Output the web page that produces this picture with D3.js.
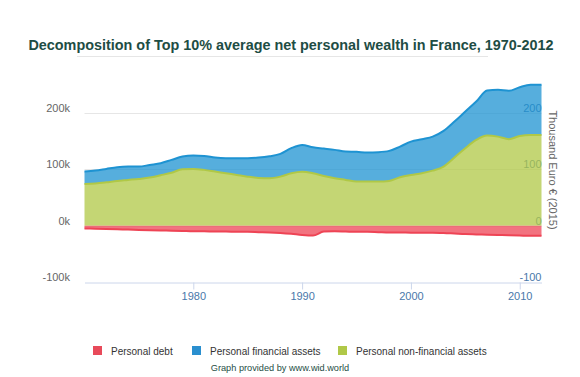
<!DOCTYPE html>
<html>
<head>
<meta charset="utf-8">
<script src="https://cdn.jsdelivr.net/npm/d3@7"></script>
<style>
  body { margin: 0; background: #fff; }
  text { font-family: "Liberation Sans", Arial, sans-serif; }
</style>
</head>
<body>
<div id="chart"></div>
<script>
// Values in thousand euro (2015)
const years = d3.range(1970, 2013);
const nonFinancial = [74, 75, 77, 79.4, 81.2, 83, 85.3, 89.5, 94, 100,
  100.7, 99, 96, 93, 90, 87, 84.7, 84, 87, 93,
  95.7, 93, 88, 84.2, 81.2, 78.2, 78.2, 78.2, 79.4, 86,
  90, 93, 97.7, 104.8, 120.8, 137.5, 152.2, 159.9, 158, 153.5,
  159.3, 161.1, 161];
const financial = [22, 22.7, 23.7, 24.3, 23.6, 21.8, 22.5, 21.3, 22.7, 22.6,
  23.7, 24.8, 24.8, 26.7, 29.7, 32.7, 36.1, 39.2, 40.3, 44.5,
  47.6, 46, 48.8, 50.3, 50.3, 52.8, 51.5, 52.1, 53.3, 54.3,
  59.2, 60.5, 60.3, 63.4, 63.9, 65, 68, 79.9, 83, 85.8,
  86.5, 88.9, 89];
const debt = [-5, -5.5, -6, -6.5, -7, -7.5, -8, -8.5, -9, -9.5,
  -10, -10, -10.5, -10.5, -11, -11, -11.5, -12, -13, -14.5,
  -16.5, -17.5, -10.5, -10, -10.5, -11, -11, -11.5, -12, -12,
  -12.5, -12.5, -12.5, -13, -14, -15, -15.5, -16, -16.5, -17,
  -17.5, -18, -18];

const yTicks = [-100, 0, 100, 200];
const xTicks = [1980, 1990, 2000, 2010];

const seriesNames = ["Personal debt", "Personal financial assets", "Personal non-financial assets"];
const seriesColors = ["#ee4455", "#1e93d2", "#b0c846"];
const legendColors = ["#e84a5a", "#2a8fcf", "#b0c848"];

const width = 580, height = 377;
const plot = {left: 84.5, right: 541.5, top: 84.8, bottom: 282};

const svg = d3.select("#chart").append("svg")
    .attr("width", width)
    .attr("height", height)
    .attr("viewBox", [0, 0, width, height]);

const x = d3.scaleLinear([1970, 2012], [plot.left, plot.right]);
const y = d3.scaleLinear([-100, 250], [plot.bottom, plot.top]);

// table for stacking
const table = years.map((yr, i) => ({
  year: yr,
  nonfin: nonFinancial[i],
  fin: financial[i],
  debt: debt[i]
}));
const keys = ["nonfin", "fin", "debt"];
const colorOf = {debt: seriesColors[0], fin: seriesColors[1], nonfin: seriesColors[2]};

const stacked = d3.stack()
    .keys(keys)
    .offset(d3.stackOffsetDiverging)(table);

// title
svg.append("text")
    .attr("x", 291)
    .attr("y", 50)
    .attr("text-anchor", "middle")
    .attr("font-size", 14.4)
    .attr("font-weight", "bold")
    .attr("fill", "#1e4d44")
    .text("Decomposition of Top 10% average net personal wealth in France, 1970-2012");

svg.append("line")
    .attr("x1", 77).attr("x2", 488)
    .attr("y1", 56.5).attr("y2", 56.5)
    .attr("stroke", "#e6e6e6");

// gridlines
svg.append("g")
  .selectAll("line")
  .data(yTicks.filter(d => d > -100))
  .join("line")
    .attr("x1", plot.left).attr("x2", plot.right)
    .attr("y1", d => Math.round(y(d)) + 0.5)
    .attr("y2", d => Math.round(y(d)) + 0.5)
    .attr("stroke", "#e6e6e6");

// right axis labels (sit under the translucent areas)
svg.append("g")
    .attr("transform", `translate(${plot.right},0)`)
    .call(d3.axisLeft(y).tickValues(yTicks).tickSize(0).tickPadding(0).tickFormat(d => String(d)))
    .call(g => g.select(".domain").remove())
    .call(g => g.selectAll("text")
        .attr("dy", null)
        .attr("y", -1.5)
        .attr("font-size", 11)
        .attr("font-family", null)
        .attr("fill", "#4a78aa"));

// areas
const area = d3.area()
    .curve(d3.curveMonotoneX)
    .x(d => x(d.data.year))
    .y0(d => y(d[0]))
    .y1(d => y(d[1]));

svg.append("g")
  .selectAll("path")
  .data(stacked)
  .join("path")
    .attr("fill", d => colorOf[d.key])
    .attr("fill-opacity", 0.75)
    .attr("d", area);

// edge lines
const edge = d3.line()
    .curve(d3.curveMonotoneX)
    .x(d => x(d.data.year))
    .y(d => y(d[1] > 0 ? d[1] : d[0]));

svg.append("g")
    .attr("fill", "none")
    .attr("stroke-width", 2)
  .selectAll("path")
  .data(stacked)
  .join("path")
    .attr("stroke", d => colorOf[d.key])
    .attr("d", edge);

// left axis labels
svg.append("g")
    .attr("transform", `translate(70,0)`)
    .call(d3.axisLeft(y).tickValues(yTicks).tickSize(0).tickPadding(0).tickFormat(d => d + "k"))
    .call(g => g.select(".domain").remove())
    .call(g => g.selectAll("text")
        .attr("dy", null)
        .attr("y", -1.5)
        .attr("font-size", 11)
        .attr("font-family", null)
        .attr("fill", "#666"));

// x axis
svg.append("g")
    .attr("transform", `translate(0,${plot.bottom + 0.5})`)
    .call(d3.axisBottom(x).tickValues(xTicks).tickSize(7).tickSizeOuter(0).tickFormat(d3.format("d")))
    .call(g => g.select(".domain").attr("stroke", "#ccd6eb"))
    .call(g => g.selectAll(".tick line").attr("stroke", "#ccd6eb"))
    .call(g => g.selectAll("text")
        .attr("font-size", 11)
        .attr("font-family", null)
        .attr("fill", "#4a78aa"));

// right axis title
svg.append("text")
    .attr("transform", `translate(549,170) rotate(90)`)
    .attr("text-anchor", "middle")
    .attr("font-size", 11)
    .attr("fill", "#666")
    .text("Thousand Euro € (2015)");

// legend
const legendX = [93, 192, 338];
const legend = svg.append("g")
  .selectAll("g")
  .data(seriesNames)
  .join("g")
    .attr("transform", (d, i) => `translate(${legendX[i]},346)`);

legend.append("rect")
    .attr("width", 9)
    .attr("height", 9)
    .attr("fill", (d, i) => legendColors[i]);

legend.append("text")
    .attr("x", 18)
    .attr("y", 9)
    .attr("font-size", 10)
    .attr("fill", "#333")
    .text(d => d);

svg.append("text")
    .attr("x", 280)
    .attr("y", 371)
    .attr("text-anchor", "middle")
    .attr("font-size", 9.2)
    .attr("fill", "#1e4d44")
    .text("Graph provided by www.wid.world");
</script>
</body>
</html>
